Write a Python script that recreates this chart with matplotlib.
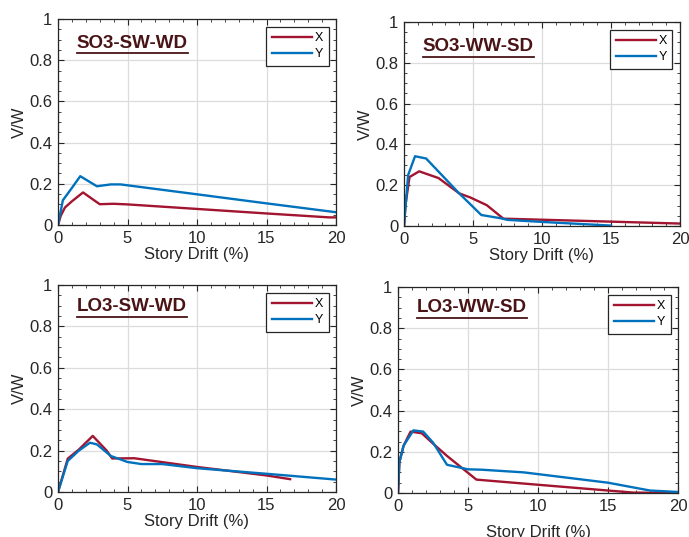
import matplotlib
matplotlib.use("Agg")
import matplotlib.pyplot as plt
from matplotlib.ticker import MultipleLocator
from matplotlib.lines import Line2D

plt.rcParams['font.family'] = ['Liberation Sans', 'DejaVu Sans']

titles = ["SO3-SW-WD", "SO3-WW-SD", "LO3-SW-WD", "LO3-WW-SD"]

# SO3-SW-WD
so3sw_x_drift = [0, 0.2, 0.5, 1.0, 1.8, 3.0, 4.0, 5.0, 10.0, 15.0, 19.5, 20.0]
so3sw_x_vw = [0, 0.045, 0.085, 0.115, 0.158, 0.101, 0.103, 0.100, 0.078, 0.056, 0.037, 0.037]
so3sw_y_drift = [0, 0.35, 1.0, 1.6, 2.8, 3.8, 4.5, 10.0, 15.0, 20.0]
so3sw_y_vw = [0, 0.12, 0.18, 0.237, 0.188, 0.197, 0.197, 0.149, 0.105, 0.062]

# SO3-WW-SD
so3ww_x_drift = [0, 0.1, 0.4, 1.1, 2.5, 4.0, 4.8, 6.0, 7.0, 7.2, 20.0]
so3ww_x_vw = [0, 0.10, 0.24, 0.268, 0.235, 0.16, 0.14, 0.102, 0.047, 0.036, 0.012]
so3ww_y_drift = [0, 0.3, 0.8, 1.6, 4.0, 5.6, 7.0, 7.5, 10.0, 15.0]
so3ww_y_vw = [0, 0.25, 0.342, 0.331, 0.16, 0.054, 0.038, 0.030, 0.020, 0.002]

# LO3-SW-WD
lo3sw_x_drift = [0, 0.7, 1.5, 2.5, 3.5, 3.9, 5.5, 10.0, 15.0, 16.7]
lo3sw_x_vw = [0, 0.161, 0.205, 0.271, 0.20, 0.162, 0.163, 0.121, 0.080, 0.062]
lo3sw_y_drift = [0, 0.7, 1.5, 2.3, 2.8, 3.8, 5.0, 6.0, 7.5, 10.0, 15.0, 20.0]
lo3sw_y_vw = [0, 0.15, 0.20, 0.238, 0.230, 0.174, 0.145, 0.135, 0.135, 0.115, 0.088, 0.060]

# LO3-WW-SD
lo3ww_x_drift = [0, 0.1, 0.4, 0.9, 1.7, 2.5, 3.5, 5.6, 10.0, 15.0, 16.8, 20.0]
lo3ww_x_vw = [0, 0.15, 0.23, 0.298, 0.290, 0.24, 0.18, 0.065, 0.040, 0.012, 0.002, 0.0]
lo3ww_y_drift = [0, 0.1, 0.4, 1.1, 1.8, 2.5, 3.5, 5.0, 6.0, 9.0, 15.0, 18.0, 20.0]
lo3ww_y_vw = [0, 0.15, 0.23, 0.304, 0.298, 0.245, 0.137, 0.115, 0.113, 0.100, 0.050, 0.012, 0.005]

series = [
    (so3sw_x_drift, so3sw_x_vw, so3sw_y_drift, so3sw_y_vw),
    (so3ww_x_drift, so3ww_x_vw, so3ww_y_drift, so3ww_y_vw),
    (lo3sw_x_drift, lo3sw_x_vw, lo3sw_y_drift, lo3sw_y_vw),
    (lo3ww_x_drift, lo3ww_x_vw, lo3ww_y_drift, lo3ww_y_vw),
]

W, H = 689, 537
fig = plt.figure(figsize=(W / 100, H / 100), dpi=100)

# pixel boxes: left, top, right, bottom
boxes = [(58, 19, 336, 225), (404, 22, 680, 226), (58, 285, 336, 492), (398, 287, 678, 493)]
title_pos = [(0.068, 0.883), (0.068, 0.879), (0.067, 0.895), (0.067, 0.900)]
xlabel_pads = [1, 1, 1, 8]

red = '#A2142F'
blue = '#0072BD'
tcol = '#4A1416'

axes = []
texts = []
for i, (l, t, r, b) in enumerate(boxes):
    ax = fig.add_axes([l / W, (H - b) / H, (r - l) / W, (b - t) / H])
    xd, xv, yd, yv = series[i]
    ax.plot(xd, xv, color=red, lw=1.7, label='X')
    ax.plot(yd, yv, color=blue, lw=1.7, label='Y')
    ax.set_xlim(0, 20)
    ax.set_ylim(0, 1)
    ax.xaxis.set_minor_locator(MultipleLocator(1))
    ax.yaxis.set_minor_locator(MultipleLocator(0.05))
    ax.set_yticks([0, 0.2, 0.4, 0.6, 0.8, 1.0])
    ax.set_yticklabels(['0', '0.2', '0.4', '0.6', '0.8', '1'])
    ax.set_xticks([0, 5, 10, 15, 20])
    ax.set_xticklabels(['0', '5', '10', '15', '20'])
    ax.tick_params(which='both', direction='in', top=True, right=True,
                   colors='#262626', labelsize=12, labelcolor='#262626')
    ax.tick_params(which='major', length=4, width=0.8, pad=4)
    ax.tick_params(which='minor', length=2.2, width=0.6)
    for s in ax.spines.values():
        s.set_color('#262626')
        s.set_linewidth(0.9)
    ax.grid(True, which='major', color='#DCDCDC', lw=0.9)
    ax.set_axisbelow(True)
    ax.set_xlabel('Story Drift (%)', fontsize=12, color='#262626', labelpad=xlabel_pads[i])
    ax.set_ylabel('V/W', fontsize=12, color='#262626', labelpad=2)
    leg = ax.legend(loc='upper right', fontsize=9, frameon=True, fancybox=False,
                    edgecolor='#262626', framealpha=1, handlelength=3.2,
                    handletextpad=0.2, borderaxespad=0.6, borderpad=0.45,
                    labelspacing=0.3)
    leg.get_frame().set_linewidth(0.9)
    tx, ty = title_pos[i]
    txt = ax.text(tx, ty, titles[i], transform=ax.transAxes, fontsize=13.5,
                  fontweight='bold', color=tcol, va='center', ha='left')
    axes.append(ax)
    texts.append(txt)

fig.canvas.draw()
renderer = fig.canvas.get_renderer()
for txt in texts:
    bb = txt.get_window_extent(renderer)
    y = bb.y0 - 1.5
    fig.add_artist(Line2D([bb.x0 / W, bb.x1 / W], [y / H, y / H],
                          transform=fig.transFigure, color=tcol, lw=1.3))

fig.savefig('out.png', dpi=100)
